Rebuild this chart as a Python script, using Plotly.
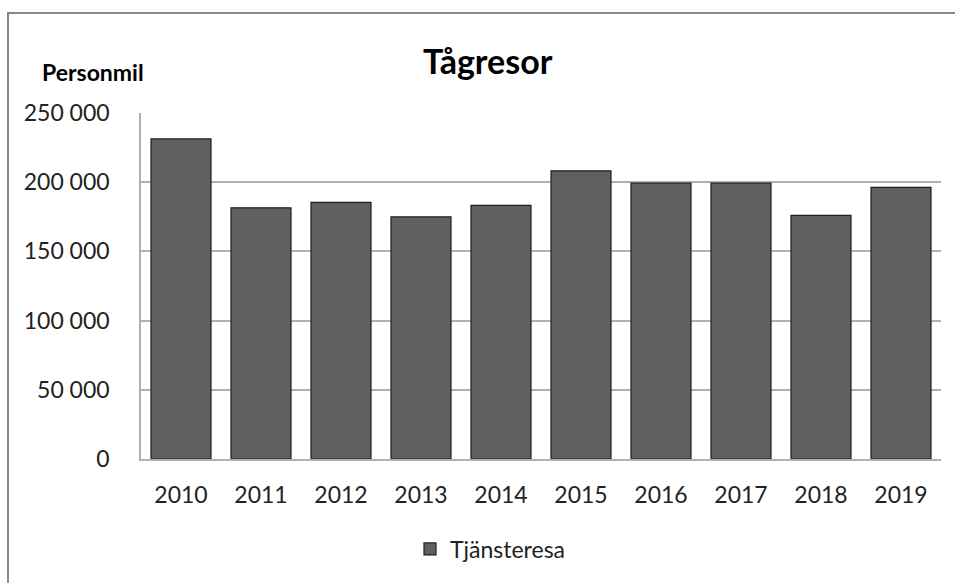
import plotly.graph_objects as go

years = ["2010", "2011", "2012", "2013", "2014", "2015", "2016", "2017", "2018", "2019"]
tjansteresa = [231300, 181500, 185400, 175000, 183200, 208200, 199300, 199300, 176000, 196200]
tick_vals = [0, 50000, 100000, 150000, 200000, 250000]
tick_text = ["0", "50 000", "100 000", "150 000", "200 000", "250 000"]

W, H = 955, 583
L, R, T, B = 141, 14, 113, 124
pw, ph = W - L - R, H - T - B

def px(x):
    return (x - L) / pw

def py(y):
    return (H - B - y) / ph

font = "Lato, Open Sans, sans-serif"

fig = go.Figure()
fig.add_trace(go.Bar(
    x=years, y=tjansteresa, name="Tjänsteresa",
    marker=dict(color="#606060", line=dict(color="#1f1f1f", width=1.2)),
    showlegend=True,
))

fig.update_layout(
    width=W, height=H,
    margin=dict(l=L, r=R, t=T, b=B),
    paper_bgcolor="white", plot_bgcolor="white",
    bargap=0.25,
    font=dict(family=font, size=22, color="#222"),
    xaxis=dict(showline=True, linecolor="#b0b0b0", linewidth=1.5, ticks="",
               tickfont=dict(size=23), ticklabelstandoff=15),
    yaxis=dict(range=[0, 250000], tickvals=tick_vals, ticktext=tick_text,
               showgrid=True, gridcolor="#b0b0b0", gridwidth=1.5,
               showline=True, linecolor="#b0b0b0", linewidth=1.5,
               zeroline=False, tickfont=dict(size=23), ticklabelstandoff=25),
    legend=dict(orientation="h", x=px(410), xanchor="left", y=py(549), yanchor="middle",
                font=dict(size=23), itemwidth=30),
    showlegend=True,
    annotations=[
        dict(text="<b>Tågresor</b>", x=px(488), y=py(60), xref="paper", yref="paper",
             showarrow=False, font=dict(size=34, family=font, color="#000"), xanchor="center", yanchor="middle"),
        dict(text="<b>Personmil</b>", x=px(40), y=py(72), xref="paper", yref="paper",
             showarrow=False, font=dict(size=23, family=font, color="#000"), xanchor="left", yanchor="middle"),
    ],
    shapes=[
        dict(type="line", xref="paper", yref="paper", x0=px(8), x1=px(8), y0=py(13), y1=py(600),
             line=dict(color="#888888", width=2)),
        dict(type="line", xref="paper", yref="paper", x0=px(7), x1=px(960), y0=py(13), y1=py(13),
             line=dict(color="#888888", width=2)),
    ],
)

fig.write_html("out.html", config={"displayModeBar": False},
               post_script="document.body.style.margin='0';document.body.style.overflow='hidden';")
